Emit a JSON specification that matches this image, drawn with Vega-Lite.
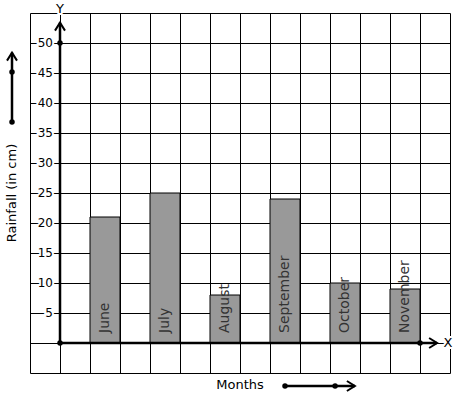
{
  "$schema": "https://vega.github.io/schema/vega-lite/v6.json",
  "width": 420,
  "height": 360,
  "autosize": "none",
  "padding": {"left": 30, "top": 13, "right": 7, "bottom": 26},
  "background": "white",
  "config": {"view": {"stroke": null}, "font": "DejaVu Sans"},
  "datasets": {
    "bars": [
      {"month": "June", "start": 1, "end": 2, "rain": 21},
      {"month": "July", "start": 3, "end": 4, "rain": 25},
      {"month": "August", "start": 5, "end": 6, "rain": 8},
      {"month": "September", "start": 7, "end": 8, "rain": 24},
      {"month": "October", "start": 9, "end": 10, "rain": 10},
      {"month": "November", "start": 11, "end": 12, "rain": 9}
    ],
    "ticks": [{"v": 5}, {"v": 10}, {"v": 15}, {"v": 20}, {"v": 25}, {"v": 30}, {"v": 35}, {"v": 40}, {"v": 45}, {"v": 50}],
    "lines": [
      {"x1": 0, "y1": 0, "x2": 0, "y2": 53.4},
      {"x1": 0, "y1": 0, "x2": 12.57, "y2": 0},
      {"x1": -1.6, "y1": 36.83, "x2": -1.6, "y2": 48.4},
      {"x1": 7.5, "y1": -7.17, "x2": 9.83, "y2": -7.17}
    ],
    "dots": [
      {"x": 0, "y": 0}, {"x": 0, "y": 50}, {"x": 12, "y": 0},
      {"x": -1.6, "y": 36.83}, {"x": -1.6, "y": 45.17},
      {"x": 7.5, "y": -7.17}, {"x": 9.17, "y": -7.17}
    ],
    "heads": [
      {"x": 0, "y": 53.4, "a": 0},
      {"x": 12.57, "y": 0, "a": 90},
      {"x": -1.6, "y": 48.4, "a": 0},
      {"x": 9.83, "y": -7.17, "a": 90}
    ],
    "labels": [
      {"x": 0, "y": 55.6, "t": "Y", "a": 0},
      {"x": 12.93, "y": 0, "t": "X", "a": 0},
      {"x": 6, "y": -7, "t": "Months", "a": 0},
      {"x": -1.6, "y": 25, "t": "Rainfall (in cm)", "a": 270}
    ]
  },
  "layer": [
    {
      "data": {"name": "bars"},
      "mark": {"type": "bar", "fill": "#999999", "stroke": "black", "strokeWidth": 1},
      "encoding": {
        "x": {"field": "start", "type": "quantitative",
          "scale": {"domain": [-1, 13], "nice": false, "zero": false},
          "axis": {"values": [-1,0,1,2,3,4,5,6,7,8,9,10,11,12,13], "tickCount": 30, "grid": true, "gridColor": "black", "gridOpacity": 1, "gridWidth": 1, "labels": false, "ticks": false, "domain": false, "title": null}},
        "x2": {"field": "end"},
        "y": {"field": "rain", "type": "quantitative",
          "scale": {"domain": [-5, 55], "nice": false, "zero": false},
          "axis": {"values": [-5,0,5,10,15,20,25,30,35,40,45,50,55], "tickCount": 30, "grid": true, "gridColor": "black", "gridOpacity": 1, "gridWidth": 1, "labels": false, "ticks": false, "domain": false, "title": null}},
        "y2": {"datum": 0}
      }
    },
    {
      "data": {"name": "bars"},
      "mark": {"type": "text", "angle": 270, "align": "left", "baseline": "middle", "dx": 10, "dy": 15, "fontSize": 14, "color": "#333333"},
      "encoding": {
        "x": {"field": "start", "type": "quantitative"},
        "y": {"datum": 0, "type": "quantitative"},
        "text": {"field": "month"}
      }
    },
    {
      "data": {"name": "ticks"},
      "mark": {"type": "text", "align": "right", "baseline": "middle", "dx": -7, "fontSize": 12, "stroke": "white", "strokeWidth": 4, "fill": "white"},
      "encoding": {
        "x": {"datum": 0, "type": "quantitative"},
        "y": {"field": "v", "type": "quantitative"},
        "text": {"field": "v"}
      }
    },
    {
      "data": {"name": "ticks"},
      "mark": {"type": "text", "align": "right", "baseline": "middle", "dx": -7, "fontSize": 12, "fill": "black"},
      "encoding": {
        "x": {"datum": 0, "type": "quantitative"},
        "y": {"field": "v", "type": "quantitative"},
        "text": {"field": "v"}
      }
    },
    {
      "data": {"name": "lines"},
      "mark": {"type": "rule", "color": "black", "strokeWidth": 2.5, "clip": false},
      "encoding": {
        "x": {"field": "x1", "type": "quantitative"},
        "y": {"field": "y1", "type": "quantitative"},
        "x2": {"field": "x2"},
        "y2": {"field": "y2"}
      }
    },
    {
      "data": {"name": "dots"},
      "mark": {"type": "point", "filled": true, "color": "black", "size": 30, "opacity": 1, "clip": false},
      "encoding": {
        "x": {"field": "x", "type": "quantitative"},
        "y": {"field": "y", "type": "quantitative"}
      }
    },
    {
      "data": {"name": "heads"},
      "mark": {"type": "point", "filled": false, "stroke": "black", "strokeWidth": 2, "opacity": 1, "size": 100, "shape": "M-1,1.6L0,0L1,1.6", "clip": false},
      "encoding": {
        "x": {"field": "x", "type": "quantitative"},
        "y": {"field": "y", "type": "quantitative"},
        "angle": {"field": "a", "type": "quantitative", "scale": null}
      }
    },
    {
      "data": {"name": "labels"},
      "mark": {"type": "text", "align": "center", "baseline": "middle", "fontSize": 13, "stroke": "white", "strokeWidth": 4, "fill": "white"},
      "encoding": {
        "x": {"field": "x", "type": "quantitative"},
        "y": {"field": "y", "type": "quantitative"},
        "angle": {"field": "a", "type": "quantitative", "scale": null},
        "text": {"field": "t"}
      }
    },
    {
      "data": {"name": "labels"},
      "mark": {"type": "text", "align": "center", "baseline": "middle", "fontSize": 13, "fill": "black"},
      "encoding": {
        "x": {"field": "x", "type": "quantitative"},
        "y": {"field": "y", "type": "quantitative"},
        "angle": {"field": "a", "type": "quantitative", "scale": null},
        "text": {"field": "t"}
      }
    }
  ]
}
